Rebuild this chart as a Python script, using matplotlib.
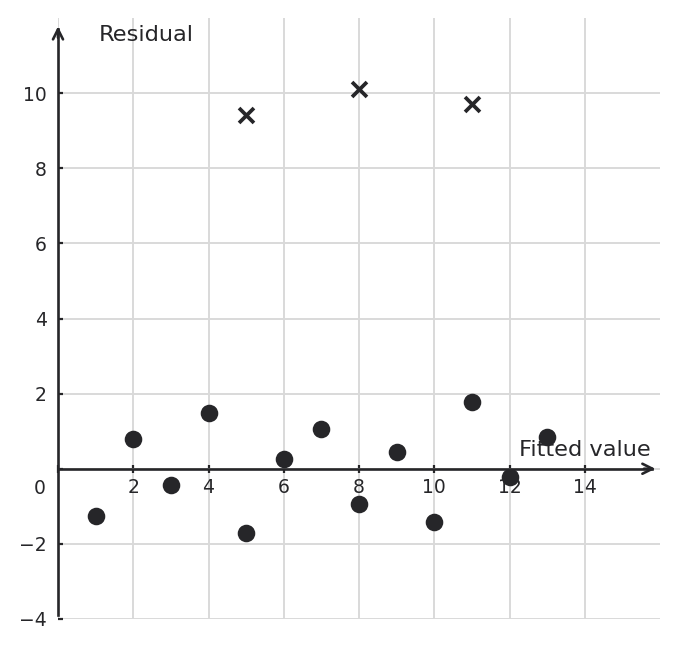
import matplotlib
matplotlib.use("Agg")
import matplotlib.pyplot as plt

# residuals of the regular points
fitted = [1, 2, 3, 4, 5, 6, 7, 8, 9, 10, 11, 12, 13]
residual = [-1.25, 0.78, -0.42, 1.48, -1.72, 0.27, 1.07, -0.93, 0.45, -1.43, 1.77, -0.23, 0.85]

# outliers drawn as crosses
out_fitted = [5, 8, 11]
out_residual = [9.41, 10.11, 9.71]

x_ticks = [0, 2, 4, 6, 8, 10, 12, 14]
y_ticks = [-4, -2, 0, 2, 4, 6, 8, 10]

INK = "#262629"
GRID = "#d9d9d9"

fig = plt.figure(figsize=(6.78, 6.48), dpi=100)
ax = fig.add_axes([58 / 678, 29 / 648, 602 / 678, 601 / 648])
ax.set_xlim(0, 16)
ax.set_ylim(-4, 12)

ax.set_xticks(x_ticks)
ax.set_yticks(y_ticks)
ax.set_xticklabels(["" if v == 0 else str(v) for v in x_ticks])
ax.set_yticklabels(["" if v == 0 else str(v).replace("-", "\u2212") for v in y_ticks])
ax.grid(True, color=GRID, linewidth=1.4)
ax.set_axisbelow(True)

for side in ["top", "right"]:
    ax.spines[side].set_visible(False)
ax.spines["bottom"].set_position(("data", 0))
ax.spines["left"].set_position(("data", 0))
for side in ["bottom", "left"]:
    ax.spines[side].set_color(INK)
    ax.spines[side].set_linewidth(1.9)
    ax.spines[side].set_zorder(3)
ax.spines["bottom"].set_bounds(0, 15.8)
ax.spines["left"].set_bounds(-3.9, 11.7)

ax.tick_params(axis="x", direction="inout", length=6, width=1.6, color=INK,
               labelsize=13.5, labelcolor=INK, pad=4)
ax.tick_params(axis="y", direction="in", length=3.5, width=1.6, color=INK,
               labelsize=13.5, labelcolor=INK, pad=8)

# arrow heads
ax.annotate("", xy=(15.95, 0), xytext=(15.5, 0),
            arrowprops=dict(arrowstyle="->", color=INK, lw=1.9, mutation_scale=18),
            annotation_clip=False, zorder=4)
ax.annotate("", xy=(0, 11.85), xytext=(0, 11.4),
            arrowprops=dict(arrowstyle="->", color=INK, lw=1.9, mutation_scale=18),
            annotation_clip=False, zorder=4)

ax.scatter(fitted, residual, s=160, color=INK, zorder=5, linewidths=0)
ax.scatter(out_fitted, out_residual, s=115, marker="x", color=INK, linewidths=2.7, zorder=5)

ax.text(-0.48, -0.53, "0", ha="center", va="center", fontsize=13.5, color=INK)
ax.text(1.07, 11.55, "Residual", ha="left", va="center", fontsize=16.2, color=INK)
ax.text(15.76, 0.51, "Fitted value", ha="right", va="center", fontsize=16.2, color=INK, zorder=6)

fig.savefig("out.png", dpi=100)
